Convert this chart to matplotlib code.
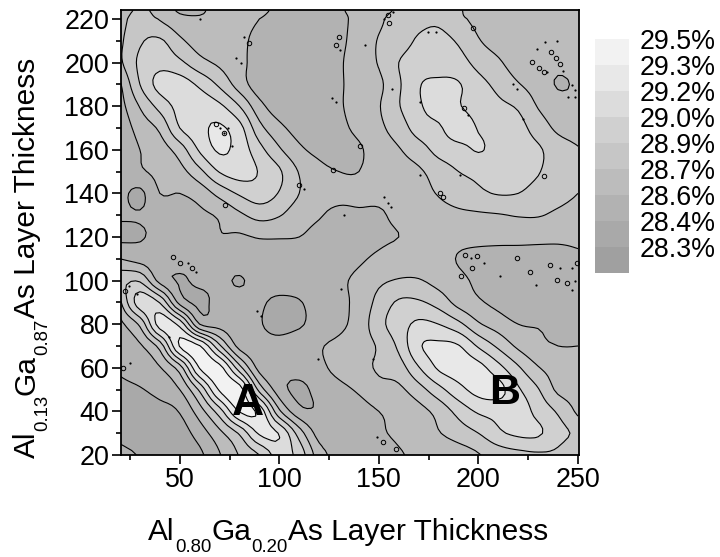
import numpy as np
import matplotlib
matplotlib.use("Agg")
import matplotlib.pyplot as plt
from matplotlib.ticker import MultipleLocator

plt.rcParams['font.family'] = ['Liberation Sans', 'DejaVu Sans']

x_nm = [20, 30, 40, 50, 60, 70, 80, 90, 100, 110, 120, 130, 140, 150, 160, 170, 180, 190, 200, 210, 220, 230, 240, 250]
y_nm = [20, 30, 40, 50, 60, 70, 80, 90, 100, 110, 120, 130, 140, 150, 160, 170, 180, 190, 200, 210, 220, 224]

y020 = [28.48,28.44,28.35,28.34,28.42,28.59,28.76,28.90,29.11,28.99,28.67,28.55,28.52,28.55,28.59,28.62,28.64,28.68,28.74,28.82,28.86,28.88,28.87,28.75]
y030 = [28.42,28.38,28.36,28.38,28.52,28.71,28.92,29.22,29.19,28.83,28.54,28.50,28.50,28.58,28.62,28.66,28.74,28.82,28.90,29.02,29.08,29.07,28.95,28.87]
y040 = [28.40,28.38,28.40,28.46,28.68,28.98,29.36,29.30,28.78,28.50,28.46,28.50,28.54,28.60,28.64,28.70,28.80,28.95,29.07,29.10,29.13,29.00,28.88,28.72]
y050 = [28.42,28.44,28.50,28.60,28.93,29.37,29.42,28.85,28.52,28.42,28.50,28.56,28.62,28.70,28.72,28.84,29.00,29.15,29.25,29.25,29.07,28.91,28.72,28.68]
y060 = [28.47,28.52,28.59,28.83,29.36,29.40,28.96,28.55,28.50,28.51,28.57,28.64,28.70,28.77,28.83,29.04,29.22,29.27,29.25,29.10,28.92,28.76,28.68,28.64]
y070 = [28.52,28.58,28.81,29.36,29.36,28.93,28.55,28.50,28.50,28.55,28.59,28.63,28.68,28.77,28.93,29.18,29.23,29.21,29.03,28.87,28.72,28.63,28.60,28.60]
y080 = [28.56,28.78,29.26,29.15,28.60,28.54,28.50,28.46,28.40,28.43,28.52,28.57,28.66,28.85,28.98,29.08,29.05,28.94,28.77,28.68,28.60,28.59,28.58,28.58]
y090 = [28.72,29.13,29.04,28.55,28.42,28.50,28.50,28.47,28.42,28.44,28.52,28.57,28.64,28.80,28.92,28.92,28.84,28.70,28.62,28.56,28.50,28.50,28.50,28.50]
y100 = [28.85,28.88,28.55,28.44,28.48,28.48,28.44,28.50,28.52,28.53,28.55,28.58,28.63,28.72,28.76,28.76,28.70,28.64,28.57,28.54,28.53,28.53,28.52,28.50]
y110 = [28.60,28.54,28.50,28.50,28.50,28.50,28.52,28.52,28.52,28.53,28.53,28.55,28.58,28.63,28.68,28.68,28.66,28.59,28.55,28.55,28.55,28.56,28.57,28.58]
y120 = [28.42,28.44,28.48,28.50,28.52,28.59,28.58,28.61,28.61,28.60,28.56,28.53,28.54,28.57,28.60,28.64,28.66,28.65,28.65,28.64,28.64,28.63,28.62,28.62]
y130 = [28.47,28.46,28.50,28.53,28.57,28.62,28.72,28.80,28.76,28.66,28.61,28.57,28.58,28.58,28.64,28.67,28.70,28.72,28.73,28.74,28.76,28.76,28.72,28.68]
y140 = [28.50,28.42,28.60,28.60,28.66,28.80,28.92,28.98,28.89,28.75,28.65,28.63,28.63,28.64,28.66,28.70,28.76,28.82,28.87,28.91,28.90,28.84,28.80,28.75]
y150 = [28.52,28.58,28.64,28.70,28.86,29.06,29.12,29.04,28.92,28.74,28.64,28.60,28.60,28.66,28.70,28.73,28.82,28.90,28.94,28.98,28.97,28.91,28.82,28.78]
y160 = [28.48,28.60,28.68,28.82,29.07,29.22,29.14,28.95,28.77,28.63,28.56,28.53,28.58,28.68,28.74,28.83,28.95,29.00,29.06,29.00,28.97,28.92,28.82,28.76]
y170 = [28.50,28.66,28.78,29.05,29.16,29.22,29.10,28.80,28.64,28.54,28.50,28.56,28.64,28.72,28.82,28.97,29.03,29.13,29.04,28.98,28.95,28.83,28.72,28.68]
y180 = [28.54,28.76,28.95,29.10,29.14,29.08,28.90,28.65,28.52,28.48,28.47,28.58,28.66,28.74,28.89,29.03,29.10,29.06,28.98,28.93,28.88,28.74,28.66,28.62]
y190 = [28.58,28.90,29.10,29.12,29.02,28.87,28.68,28.52,28.49,28.48,28.50,28.58,28.66,28.72,28.88,29.04,29.07,29.06,28.95,28.86,28.76,28.68,28.59,28.62]
y200 = [28.72,28.93,29.00,28.93,28.80,28.72,28.64,28.54,28.50,28.50,28.52,28.58,28.68,28.76,28.90,28.98,29.00,28.96,28.85,28.77,28.68,28.64,28.63,28.64]
y210 = [28.72,28.88,28.92,28.78,28.68,28.65,28.63,28.56,28.53,28.52,28.53,28.57,28.66,28.76,28.83,28.92,28.95,28.88,28.76,28.70,28.67,28.66,28.64,28.66]
y220 = [28.69,28.82,28.74,28.65,28.62,28.64,28.64,28.60,28.56,28.54,28.55,28.58,28.63,28.72,28.82,28.86,28.87,28.78,28.72,28.70,28.68,28.66,28.65,28.64]
y224 = [28.68,28.77,28.70,28.58,28.58,28.65,28.65,28.62,28.58,28.55,28.56,28.59,28.63,28.70,28.77,28.82,28.83,28.76,28.72,28.70,28.68,28.66,28.65,28.64]

dot_x = [60.2,82.5,78.3,80.6,130.6,126.7,128.5,70.3,74.4,72.4,76.4,112.5,132.6,152.7,154.7,156.3,142.8,152.7,156.9,
         24.5,28.4,25,44.6,54.3,58.2,88.7,90.7,130.9,119.2,147,149,
         202.9,196.3,210.6,228.8,247.2,241,248.6,246.9,
         174.9,178.6,156.5,170.7,195,222.6,217.3,219.3,190.8,170.7,239.4,233.5,229.3,245.2,248.6,248.6,246.9,242.7,234.3]
dot_y = [220,211.9,202,200,205.8,183.9,181.9,169.8,169.8,167.9,161.9,141.9,130,138.2,135.7,133.9,208,220,223.4,
         97.7,93.8,62,74,107.9,104,86,83.9,96,64.2,64,28.1,
         108.2,110.2,102.3,98,105.9,105.9,100,95.7,
         213.9,213.9,187.9,182,176,174.1,190.2,187.7,148.4,148.4,210,209.6,206,184.4,187.4,184,189.7,196.1,195.8]
loop_x = [84.8,130.2,128.4,68,72.4,110.1,140.3,154.8,155.2,72.8,126.9,22.5,21.7,56.3,50.1,46.8,158.5,152.3,
          191.1,193.3,199.5,196.7,219.3,226,235.7,239.4,244.4,249.4,
          192.5,232.7,180.8,182.4,197.2,227,230.5,233,236.4,239,241]
loop_y = [208.8,211.9,208,171.8,167.9,143.8,161.9,221.8,218,134.7,150.7,95.2,60,105.6,107.9,110.7,22.8,26.1,
          102.1,111.7,111.3,105.6,110.2,104,107.1,100.3,98.7,107.9,
          179,148.1,140,138.2,215.7,200.4,197.7,195.8,205,202,199.3]

levels = [28.15, 28.3, 28.45, 28.6, 28.75, 28.9, 29.05, 29.2, 29.35, 29.5]
grays = ['#a0a0a0', '#a9a9a9', '#b2b2b2', '#bcbcbc', '#c6c6c6', '#d0d0d0', '#dcdcdc', '#e8e8e8', '#f2f2f2']
legend_labels = ['29.5%', '29.3%', '29.2%', '29.0%', '28.9%', '28.7%', '28.6%', '28.4%', '28.3%']


def smooth_axis(a, n, axis):
    a = np.moveaxis(a, axis, 0)
    m = a.shape[0]
    t = np.linspace(0, m - 1, (m - 1) * n + 1)
    i = np.clip(t.astype(int), 0, m - 2)
    f = (t - i).reshape((-1,) + (1,) * (a.ndim - 1))
    p0 = a[np.clip(i - 1, 0, m - 1)]
    p1 = a[i]
    p2 = a[i + 1]
    p3 = a[np.clip(i + 2, 0, m - 1)]
    out = 0.5 * (2 * p1 + (p2 - p0) * f + (2 * p0 - 5 * p1 + 4 * p2 - p3) * f ** 2 + (3 * p1 - p0 - 3 * p2 + p3) * f ** 3)
    return np.moveaxis(out, 0, axis)


Z = np.array([y020, y030, y040, y050, y060, y070, y080, y090, y100, y110, y120,
              y130, y140, y150, y160, y170, y180, y190, y200, y210, y220, y224])
N = 5
Zf = smooth_axis(smooth_axis(Z, N, 0), N, 1)
Xf = smooth_axis(np.array(x_nm, float), N, 0)
Yf = np.interp(np.linspace(0, len(y_nm) - 1, (len(y_nm) - 1) * N + 1), np.arange(len(y_nm)), y_nm)
Zc = np.clip(Zf, levels[0] + 0.001, levels[-1] - 0.001)

W, H = 720, 557
fig = plt.figure(figsize=(W / 100, H / 100), dpi=100)
ax = fig.add_axes([121 / W, 1 - 455 / H, 458 / W, 445 / H])
ax.contourf(Xf, Yf, Zc, levels=levels, colors=grays)
ax.contour(Xf, Yf, Zc, levels=levels[1:-1], colors='black', linewidths=0.8)
ax.plot(dot_x, dot_y, ls='none', marker='o', ms=1.6, mfc='black', mec='black', mew=0)
ax.plot(loop_x, loop_y, ls='none', marker='o', ms=3.2, mfc='none', mec='black', mew=0.7)
ax.set_xlim(20.5, 250.5)
ax.set_ylim(20, 224.1)
ax.xaxis.set_major_locator(MultipleLocator(50))
ax.xaxis.set_minor_locator(MultipleLocator(25))
ax.yaxis.set_major_locator(MultipleLocator(20))
ax.yaxis.set_minor_locator(MultipleLocator(10))
ax.tick_params(which='major', length=6.5, width=1.2, labelsize=19.4, pad=2)
ax.tick_params(which='minor', length=3.5, width=1.2)
for s in ax.spines.values():
    s.set_linewidth(1.3)

ax.text(84.5, 43.5, 'A', fontsize=32, fontweight='bold', ha='center', va='center')
ax.text(213, 48.5, 'B', fontsize=31, fontweight='bold', ha='center', va='center')

BIG, SMALL = 21.5, 13.4


def px_text(px, py, s, size, rot=0):
    fig.text(px / W, 1 - py / H, s, fontsize=size, ha='left', va='baseline', rotation=rot, rotation_mode='anchor')


for px, s, size, base in [(148, 'Al', BIG, 540), (175, '0.80', SMALL, 552), (211.7, 'Ga', BIG, 540),
                          (251, '0.20', SMALL, 552), (288, 'As Layer Thickness', BIG, 540)]:
    px_text(px, base, s, size)
for py, s, size, base in [(458, 'Al', BIG, 35), (431, '0.13', SMALL, 47), (394.7, 'Ga', BIG, 35),
                          (355, '0.87', SMALL, 47), (318, 'As Layer Thickness', BIG, 35)]:
    px_text(base, py, s, size, rot=90)

cax = fig.add_axes([595 / W, 1 - 273 / H, 34 / W, 234 / H])
cax.pcolormesh([0, 1], levels, np.arange(9).reshape(-1, 1), cmap=matplotlib.colors.ListedColormap(grays), vmin=-0.5, vmax=8.5)
cax.set_xlim(0, 1)
cax.set_ylim(levels[0], levels[-1])
cax.axis('off')
for lvl, lab in zip(levels[::-1], legend_labels):
    cax.text(1.3, lvl - 0.019, lab, fontsize=19.3, ha='left', va='center', clip_on=False)

fig.savefig('out.png', dpi=100)
